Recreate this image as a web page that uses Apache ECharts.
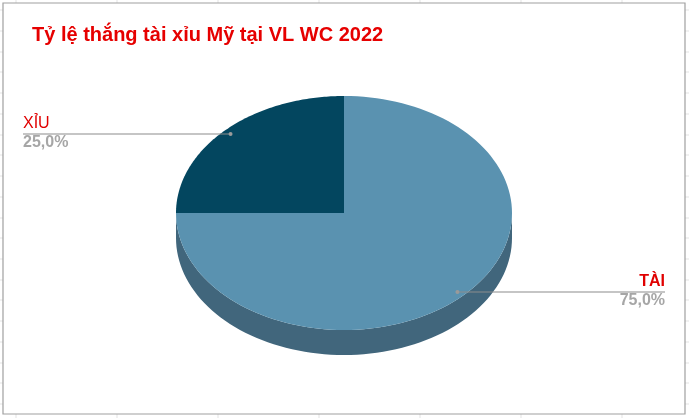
<!DOCTYPE html>
<html>
<head>
<meta charset="utf-8">
<title>Tỷ lệ thắng tài xỉu Mỹ tại VL WC 2022</title>
<script src="https://cdn.jsdelivr.net/npm/echarts@6/dist/echarts.min.js"></script>
<style>
  html, body { margin: 0; padding: 0; background: #fff; }
  #main { width: 689px; height: 418px; }
</style>
</head>
<body>
<div id="main"></div>
<script>
// ---------------------------dữ liệu-------------------------------
var categories = ['TÀI', 'XỈU'];
var values = [75, 25];
var percentLabels = ['75,0%', '25,0%'];
var topColors = ['#5a92b0', '#03465f'];
var sideColors = ['#41667c', '#022f40'];

// excel sheet cell lines behind the chart
var colLines = [16, 117, 218, 319, 420, 521, 622];
var rowLines = [10, 31, 52, 72, 93, 114, 135, 155, 176, 197, 218, 238, 259, 280, 300, 321, 342, 363, 383, 404];

var chart = echarts.init(document.getElementById('main'));

var total = values.reduce(function (a, b) { return a + b; }, 0);
var pie = { cx: 344, cy: 213, rx: 168, ry: 117, depth: 25 };

function startAngle(i) {
	var cum = 0;
	for (var k = 0; k < i; k++) cum += values[k];
	return -90 + 360 * cum / total; // excel: start at 12 o'clock, clockwise
}
function pt(deg, dy) {
	var a = deg * Math.PI / 180;
	return [pie.cx + pie.rx * Math.cos(a), pie.cy + pie.ry * Math.sin(a) + (dy || 0)];
}

var bg = [];
colLines.forEach(function (x) {
	bg.push({ type: 'line', shape: { x1: x, y1: 0, x2: x, y2: 418 }, style: { stroke: '#e3e3e3', lineWidth: 1 }, z: -10 });
});
rowLines.forEach(function (y) {
	bg.push({ type: 'line', shape: { x1: 0, y1: y, x2: 689, y2: y }, style: { stroke: '#e3e3e3', lineWidth: 1 }, z: -10 });
});
bg.push({ type: 'rect', shape: { x: 3, y: 3, width: 682, height: 411 }, style: { fill: '#fff', stroke: '#a0a0a0', lineWidth: 1.2 }, z: -5 });

chart.setOption({
	animation: false,
	title: {
		text: 'Tỷ lệ thắng tài xỉu Mỹ tại VL WC 2022',
		left: 32,
		top: 25,
		padding: 0,
		textStyle: { color: '#e60000', fontSize: 20, fontWeight: 'bold', fontFamily: 'Liberation Sans, Arial, sans-serif' }
	},
	graphic: bg,
	series: [
		{
			// mặt bên (độ dày)
			type: 'custom',
			coordinateSystem: 'none',
			z: 1,
			data: values,
			renderItem: function (params, api) {
				var i = params.dataIndex;
				var a1 = startAngle(i), a2 = a1 + 360 * api.value(0) / total;
				// visible front part: 0..180 degrees
				var s = Math.max(a1, 0), e = Math.min(a2, 180);
				if (e <= s) return { type: 'group', children: [] };
				var pts = [], n = 80, k;
				for (k = 0; k <= n; k++) pts.push(pt(s + (e - s) * k / n, 0));
				for (k = n; k >= 0; k--) pts.push(pt(s + (e - s) * k / n, pie.depth));
				return { type: 'polygon', shape: { points: pts }, style: { fill: sideColors[i] } };
			}
		},
		{
			// mặt trên + nhãn
			type: 'custom',
			coordinateSystem: 'none',
			z: 2,
			data: values,
			renderItem: function (params, api) {
				var i = params.dataIndex;
				var a1 = startAngle(i), a2 = a1 + 360 * api.value(0) / total;
				var pts = [[pie.cx, pie.cy]], n = 120;
				for (var k = 0; k <= n; k++) pts.push(pt(a1 + (a2 - a1) * k / n, 0));
				var mid = (a1 + a2) / 2;
				var ar = mid * Math.PI / 180;
				var dot = [pie.cx + 0.955 * pie.rx * Math.cos(ar), pie.cy + 0.955 * pie.ry * Math.sin(ar)];
				var right = Math.cos(ar) > 0;
				var endX = right ? 665 : 23;
				return {
					type: 'group',
					children: [
						{ type: 'polygon', shape: { points: pts }, style: { fill: topColors[i] } },
						{ type: 'line', shape: { x1: dot[0], y1: dot[1], x2: endX, y2: dot[1] }, style: { stroke: '#8c8c8c', lineWidth: 1.2 }, z2: 5 },
						{ type: 'circle', shape: { cx: dot[0], cy: dot[1], r: 2 }, style: { fill: '#9a9a9a' }, z2: 6 },
						{
							type: 'text', z2: 6,
							style: {
								text: categories[i], x: endX, y: dot[1] - 2,
								align: right ? 'right' : 'left', verticalAlign: 'bottom',
								fill: '#e00000', fontSize: 16, fontWeight: right ? 'bold' : 'normal',
								fontFamily: 'Liberation Sans, Arial, sans-serif'
							}
						},
						{
							type: 'text', z2: 6,
							style: {
								text: percentLabels[i], x: endX, y: dot[1] + 1,
								align: right ? 'right' : 'left', verticalAlign: 'top',
								fill: '#a6a6a6', fontSize: 16, fontWeight: 'bold',
								fontFamily: 'Liberation Sans, Arial, sans-serif'
							}
						}
					]
				};
			}
		}
	]
});
</script>
</body>
</html>
